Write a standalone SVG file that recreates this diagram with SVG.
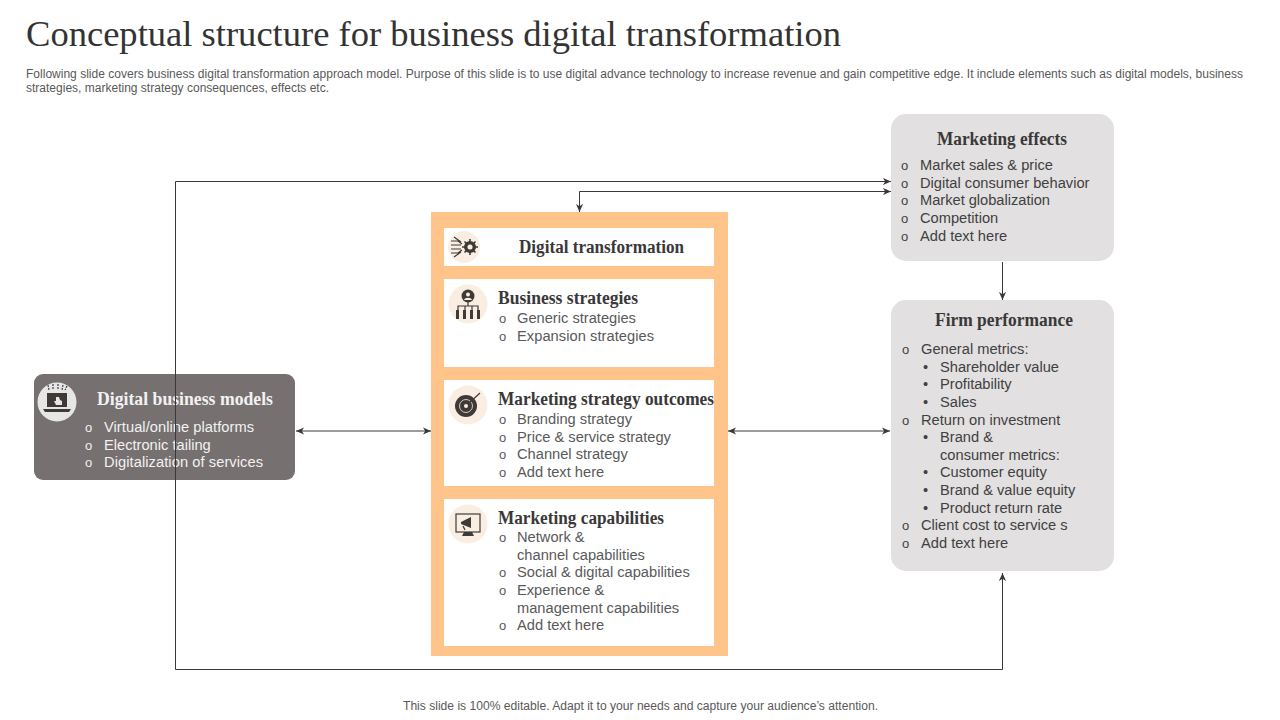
<svg xmlns="http://www.w3.org/2000/svg" width="1280" height="720" viewBox="0 0 1280 720">
<style>
text{font-family:"Liberation Sans",Arial,sans-serif}
.h{font-family:"Liberation Serif","Times New Roman",serif;font-size:18.5px;font-weight:bold;fill:#3a3838}
.b{font-size:14.67px;fill:#595959}
.d{fill:#404040}
.w{fill:#f2f2f2}
.o{font-size:13px}
.c{fill:none;stroke:#3a3838;stroke-width:1}
.ic{fill:#3f3a38}
.il{fill:none;stroke:#3f3a38;stroke-width:1.2}
.bub{fill:#faeee2}
</style>
<defs>
<marker id="a" viewBox="0 0 10 8" markerWidth="9" markerHeight="8" refX="9" refY="4" orient="auto-start-reverse" markerUnits="userSpaceOnUse"><path d="M0 0L9 4L0 8L2.500 4Z" fill="#3a3838"/></marker>
</defs>
<rect width="1280" height="720" fill="#fff"/>
<text x="26" y="46" font-size="36" textLength="815" lengthAdjust="spacingAndGlyphs" style="font-family:'Liberation Serif','Times New Roman',serif;fill:#333">Conceptual structure for business digital transformation</text>
<text x="26" y="78" font-size="12" fill="#595959" textLength="1217" lengthAdjust="spacingAndGlyphs">Following slide covers business digital transformation approach model. Purpose of this slide is to use digital advance technology to increase revenue and gain competitive edge. It include elements such as digital models, business</text>
<text x="26" y="92" font-size="12" fill="#595959" textLength="303" lengthAdjust="spacingAndGlyphs">strategies, marketing strategy consequences, effects etc.</text>

<g id="marketing-effects">
<rect x="891" y="114" width="223" height="147" rx="15" fill="#e2e0e0"/>
<text class="h" x="937" y="145" textLength="130" lengthAdjust="spacingAndGlyphs">Marketing effects</text>
<g class="b d">
<text class="o" x="901" y="170">o</text><text x="920" y="170" textLength="133">Market  sales &amp; price</text>
<text class="o" x="901" y="188">o</text><text x="920" y="188">Digital consumer behavior</text>
<text class="o" x="901" y="205">o</text><text x="920" y="205" textLength="130">Market  globalization</text>
<text class="o" x="901" y="223">o</text><text x="920" y="223">Competition</text>
<text class="o" x="901" y="241">o</text><text x="920" y="241">Add text here</text>
</g>
</g>

<g id="firm-performance">
<rect x="891" y="300" width="223" height="271" rx="15" fill="#e2e0e0"/>
<text class="h" x="935" y="326" textLength="138" lengthAdjust="spacingAndGlyphs">Firm performance</text>
<g class="b d">
<text class="o" x="902" y="354">o</text><text x="921" y="354">General metrics:</text>
<text x="923" y="372">•</text><text x="940" y="372">Shareholder value</text>
<text x="923" y="389">•</text><text x="940" y="389">Profitability</text>
<text x="923" y="407">•</text><text x="940" y="407">Sales</text>
<text class="o" x="902" y="425">o</text><text x="921" y="425">Return on investment</text>
<text x="923" y="442">•</text><text x="940" y="442">Brand &amp;</text>
<text x="940" y="460">consumer metrics:</text>
<text x="923" y="477">•</text><text x="940" y="477">Customer equity</text>
<text x="923" y="495">•</text><text x="940" y="495">Brand &amp; value equity</text>
<text x="923" y="513">•</text><text x="940" y="513">Product return rate</text>
<text class="o" x="902" y="530">o</text><text x="921" y="530">Client cost to service s</text>
<text class="o" x="902" y="548">o</text><text x="921" y="548">Add text here</text>
</g>
</g>

<g id="digital-business-models">
<rect x="34" y="374" width="261" height="106" rx="9" fill="#767070"/>
<circle cx="57" cy="402" r="19.500" fill="#e7e6e6"/>
<rect x="47" y="393" width="20" height="14" class="ic"/><path d="M43 409H71L69 412H45Z" class="ic"/>
<path d="M48 385l1 5M53 384v5M58 384v5M63 385l-1 5M67 386l-2 4" class="il" stroke-dasharray="2 1"/>
<path d="M56 397l3 0 1 3 2 1 0 4h-6l-2-4 2 0z" fill="#e7e6e6"/>
<text class="h" x="97" y="405" textLength="176" lengthAdjust="spacingAndGlyphs" style="fill:#f2f2f2">Digital business models</text>
<g class="b w">
<text class="o" x="85" y="432">o</text><text x="104" y="432" textLength="150">Virtual/online  platforms</text>
<text class="o" x="85" y="450">o</text><text x="104" y="450">Electronic tailing</text>
<text class="o" x="85" y="467">o</text><text x="104" y="467" textLength="159">Digitalization of  services</text>
</g>
</g>

<g id="digital-transformation-panel">
<rect x="431" y="212" width="297" height="444" fill="#fec48a"/>
</g>

<g id="digital-transformation">
<rect x="444" y="228" width="270" height="38" fill="#fff"/>
<circle cx="464" cy="247" r="16" class="bub"/>
<path d="M451 241h7l4 3M451 245h10M451 249h10M451 253h7l4-3M454 237l7 5M454 257l7-5" class="il" stroke-width=".8"/>
<circle cx="470" cy="247" r="6" class="ic"/><circle cx="470" cy="247" r="2.500" fill="#faeee2"/>
<path d="M470 239v16M462 247h16M464.500 241.500l11 11M475.500 241.500l-11 11" stroke="#3f3a38" stroke-width="1.600"/><circle cx="470" cy="247" r="2.500" fill="#faeee2"/>
<text class="h" x="519" y="253" textLength="165" lengthAdjust="spacingAndGlyphs">Digital transformation</text>
</g>

<g id="business-strategies">
<rect x="444" y="279" width="270" height="88" fill="#fff"/>
<circle cx="468" cy="304" r="19.500" class="bub"/>
<circle cx="468" cy="296" r="6.500" class="ic"/><circle cx="468" cy="294.500" r="2" fill="#faeee2"/><path d="M464 300c1-3 7-3 8 0z" fill="#faeee2"/>
<path d="M468 302v4M458 310v-4h20v4M465 306v4M472 306v4" class="il" stroke-width=".8"/>
<path d="M456 310h3v9h-3zM463 310h3v9h-3zM470 310h3v9h-3zM477 310h3v9h-3z" class="ic"/>
<text class="h" x="498" y="304" textLength="140" lengthAdjust="spacingAndGlyphs">Business strategies</text>
<g class="b">
<text class="o" x="499" y="323">o</text><text x="517" y="323">Generic strategies</text>
<text class="o" x="499" y="341">o</text><text x="517" y="341" textLength="137">Expansion strategies</text>
</g>
</g>

<g id="marketing-strategy-outcomes">
<rect x="444" y="380" width="270" height="106" fill="#fff"/>
<circle cx="468" cy="405" r="19.500" class="bub"/>
<circle cx="466" cy="406" r="11" class="ic"/><circle cx="466" cy="406" r="6.500" fill="none" stroke="#faeee2" stroke-width=".8"/><circle cx="466" cy="406" r="2" fill="#faeee2"/>
<path d="M468 404L480 393" class="il"/>
<text class="h" x="498" y="405" textLength="216" lengthAdjust="spacingAndGlyphs">Marketing strategy outcomes</text>
<g class="b">
<text class="o" x="499" y="424">o</text><text x="517" y="424" textLength="115">Branding strategy</text>
<text class="o" x="499" y="442">o</text><text x="517" y="442">Price &amp; service strategy</text>
<text class="o" x="499" y="459">o</text><text x="517" y="459">Channel strategy</text>
<text class="o" x="499" y="477">o</text><text x="517" y="477">Add text here</text>
</g>
</g>

<g id="marketing-capabilities">
<rect x="444" y="499" width="270" height="147" fill="#fff"/>
<circle cx="468" cy="524" r="19.500" class="bub"/>
<rect x="456" y="514" width="24" height="18" class="il"/><path d="M464 532h8l2 4h-12z" class="ic"/>
<path d="M461 522l10-5v11l-10-4z" class="ic"/><path d="M463 526l2 4" class="il"/>
<text class="h" x="498" y="524" textLength="166" lengthAdjust="spacingAndGlyphs">Marketing capabilities</text>
<g class="b">
<text class="o" x="499" y="542">o</text><text x="517" y="542">Network &amp;</text>
<text x="517" y="560">channel capabilities</text>
<text class="o" x="499" y="577">o</text><text x="517" y="577">Social &amp; digital capabilities</text>
<text class="o" x="499" y="595">o</text><text x="517" y="595">Experience &amp;</text>
<text x="517" y="613">management capabilities</text>
<text class="o" x="499" y="630">o</text><text x="517" y="630">Add text here</text>
</g>
</g>

<g id="connectors">
<path class="c" d="M175.500 374V181.500H891" marker-end="url(#a)"/>
<path class="c" d="M175.500 374V669.500H1002.500V573" marker-end="url(#a)"/>
<path class="c" d="M891 191.500H579.500V212" marker-start="url(#a)" marker-end="url(#a)"/>
<path class="c" d="M1002.500 262V300" marker-end="url(#a)"/>
<path class="c" d="M296 431H431" marker-start="url(#a)" marker-end="url(#a)"/>
<path class="c" d="M728 431H890" marker-start="url(#a)" marker-end="url(#a)"/>
</g>

<text x="403" y="710" font-size="12" fill="#595959" textLength="475" lengthAdjust="spacingAndGlyphs">This slide is 100% editable. Adapt it to your needs and capture your audience’s attention.</text>
</svg>
